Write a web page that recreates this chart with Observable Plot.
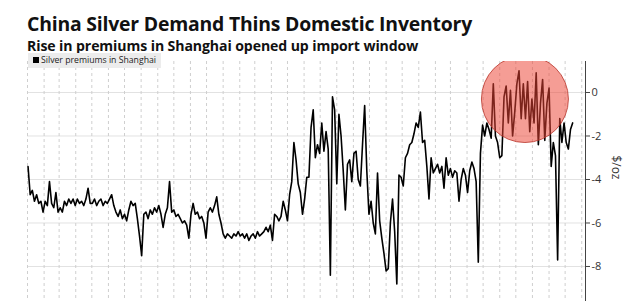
<!DOCTYPE html>
<html>
<head>
<meta charset="utf-8">
<script src="https://cdn.jsdelivr.net/npm/d3@7"></script>
<script src="https://cdn.jsdelivr.net/npm/@observablehq/plot@0.6"></script>
<style>
  html, body { margin: 0; padding: 0; background: #ffffff; }
  body { width: 640px; height: 301px; overflow: hidden; position: relative; font-family: "Open Sans", "Noto Sans", sans-serif; }
  #title { position: absolute; left: 27px; top: 14px; font-size: 19.4px; font-weight: 700; color: #111; white-space: nowrap; letter-spacing: -0.2px; line-height: 1; }
  #subtitle { position: absolute; left: 27px; top: 39px; font-size: 14.1px; font-weight: 700; color: #111; white-space: nowrap; letter-spacing: -0.1px; line-height: 1; }
  #chart { position: absolute; left: 0; top: 61px; }
  #legend { position: absolute; left: 28px; top: 53px; height: 15px; padding: 0 5px 0 5px; background: #ececec; font-size: 8.7px; color: #222; line-height: 15px; white-space: nowrap; z-index: 2; }
  #legend .sw { display: inline-block; width: 6px; height: 6px; background: #000; margin-right: 2px; vertical-align: 0px; }
</style>
</head>
<body>
<div id="title"></div>
<div id="subtitle"></div>
<div id="chart"></div>
<div id="legend"></div>
<script>
// ---- Data ----
const titleText = "China Silver Demand Thins Domestic Inventory";
const subtitleText = "Rise in premiums in Shanghai opened up import window";
const seriesName = "Silver premiums in Shanghai";
const unitLabel = "$/oz";
const yTicks = [0, -2, -4, -6, -8];
const xStart = "2013-01-01";
const xEnd = "2015-11-08";
const firstObservation = "2013-01-02";
const observationStepDays = 4;
// Silver premium in Shanghai, $/oz
const premiums = [
  -3.4, -4.7, -4.5, -5.0, -4.7, -5.1, -5.0, -5.5, -5.0, -5.2,
  -4.1, -5.1, -5.3, -4.6, -5.5, -5.3, -5.5, -5.0, -5.2, -4.9,
  -5.1, -4.9, -5.2, -4.9, -5.1, -5.0, -5.2, -4.9, -4.4, -5.1,
  -5.1, -4.9, -5.2, -5.0, -4.9, -5.2, -5.0, -5.1, -4.9, -4.7,
  -5.2, -5.5, -5.7, -5.4, -5.8, -5.6, -5.9, -5.4, -5.0, -5.2,
  -5.1, -5.8, -6.6, -7.5, -5.6, -5.5, -5.8, -5.4, -5.6, -5.3,
  -5.5, -5.2, -5.6, -6.2, -5.6, -5.3, -4.1, -5.5, -5.4, -5.7,
  -5.6, -5.8, -6.0, -5.9, -6.1, -6.7, -5.6, -5.1, -5.6, -5.5,
  -5.8, -5.7, -6.0, -6.7, -5.5, -5.3, -5.5, -5.2, -4.8, -5.6,
  -6.0, -6.5, -6.7, -6.5, -6.6, -6.7, -6.5, -6.6, -6.4, -6.6,
  -6.5, -6.7, -6.5, -6.8, -6.6, -6.5, -6.7, -6.4, -6.6, -6.5,
  -6.4, -6.2, -6.4, -6.1, -6.8, -5.6, -5.7, -5.9, -5.7, -5.0,
  -5.4, -5.9, -4.7, -4.1, -2.3, -3.1, -4.2, -4.6, -5.6, -4.9,
  -3.9, -3.9, -1.6, -0.8, -3.0, -2.4, -2.8, -1.4, -2.7, -1.8,
  -2.6, -8.4, -0.2, -0.8, -4.2, -1.0, -2.0, -3.6, -5.4, -3.3,
  -3.1, -4.1, -2.8, -2.7, -4.0, -4.3, -2.4, -0.6, -3.6, -5.6,
  -5.0, -6.0, -6.5, -3.7, -5.9, -6.7, -7.4, -8.2, -8.1, -6.0,
  -4.9, -6.4, -8.8, -3.8, -3.9, -4.3, -3.0, -2.8, -2.4, -2.3,
  -1.9, -1.4, -1.6, -0.9, -2.3, -2.2, -3.4, -4.9, -3.0, -3.7,
  -3.5, -3.3, -3.7, -3.4, -4.4, -3.0, -3.8, -3.5, -3.9, -3.6,
  -3.7, -5.0, -4.0, -3.5, -3.8, -4.6, -3.6, -3.2, -3.5, -4.1,
  -7.8, -2.8, -1.5, -2.0, -1.4, -1.7, -2.1, 0.4, -2.0, -2.3,
  -3.0, -2.9, -0.2, 0.3, -1.4, 0.1, -2.0, -0.9, 0.4, 1.0,
  -1.2, 0.4, -1.2, 0.5, -1.8, -0.3, -1.4, 0.9, -2.4, -0.5,
  0.6, -2.2, -0.5, 0.2, -3.4, -2.3, -2.9, -7.7, -1.2, -2.3,
  -1.4, -2.3, -2.6, -1.7, -1.4
];
const highlightDate = "2015-07-18";
const highlightValue = -0.3;

// ---- Build ----
const t0 = new Date(firstObservation);
const data = premiums.map((v, i) => ({ date: d3.utcDay.offset(t0, i * observationStepDays), value: v }));
const months = d3.utcMonth.range(new Date(xStart), new Date(xEnd));
const highlight = [{ date: new Date(highlightDate), value: highlightValue }];

document.getElementById("title").textContent = titleText;
document.getElementById("subtitle").textContent = subtitleText;
document.getElementById("legend").innerHTML = `<span class="sw"></span>${seriesName}`;

const chart = Plot.plot({
  width: 640,
  height: 262,
  marginLeft: 27,
  marginRight: 55,
  marginTop: 0,
  marginBottom: 22,
  style: { background: "transparent", fontFamily: "Open Sans, sans-serif", fontSize: "11px", color: "#333" },
  x: { type: "utc", domain: [new Date(xStart), new Date(xEnd)], axis: null },
  y: { domain: [-9.61, 1.425], axis: null },
  marks: [
    Plot.ruleY(yTicks, { stroke: "#e2e2e2", strokeWidth: 1 }),
    Plot.ruleX(months, { stroke: "#cfcfcf", strokeWidth: 1, strokeDasharray: "3,3" }),
    Plot.lineY(data, { x: "date", y: "value", stroke: "#000", strokeWidth: 1.6 }),
    Plot.dot(highlight, { x: "date", y: "value", r: 43.5, fill: "#ec4434", fillOpacity: 0.52, stroke: "#b8352a", strokeOpacity: 0.8, strokeWidth: 1 }),
    Plot.ruleX([new Date(xEnd)], { stroke: "#444", strokeWidth: 1 }),
    Plot.axisY({ anchor: "right", ticks: yTicks, tickSize: 4, tickPadding: 2, tickFormat: d => `${d}`, label: null, fill: "#333", stroke: "#444" }),
    Plot.text([unitLabel], { frameAnchor: "right", dx: 30, dy: -2, rotate: 90, fontSize: 12, fill: "#333" })
  ]
});
document.getElementById("chart").appendChild(chart);
</script>
</body>
</html>
